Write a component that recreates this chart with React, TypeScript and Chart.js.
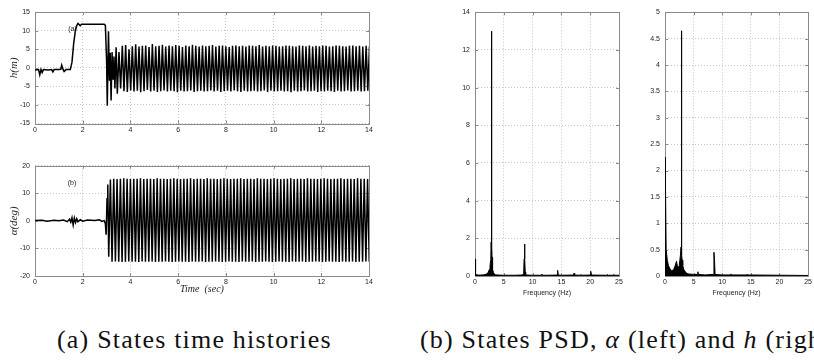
import React, { useEffect, useRef } from 'react';
import { Chart, registerables } from 'chart.js';
Chart.register(...registerables);

// ---------- (a) time history of h ----------
const hTransT = [0, 0.15, 0.2, 0.25, 0.3, 0.35, 0.55, 0.7, 0.75, 0.8, 1.0, 1.08, 1.12, 1.18, 1.22, 1.3, 1.48, 1.55, 1.62, 1.7, 1.76, 1.8, 1.85, 1.9, 1.95, 2.0, 2.5, 2.9, 2.95, 3.0, 3.03, 3.08, 3.12, 3.15, 3.19, 3.23, 3.27, 3.31, 3.35, 3.4];
const hTransV = [-0.6, -0.5, -1.9, -0.5, -1.3, -0.5, -0.6, -0.5, -1.1, -0.5, -0.5, -0.4, 0.7, -0.5, -1.0, -0.5, -0.5, 1.5, 6.5, 10.3, 11.5, 11.9, 11.6, 11.3, 11.7, 11.7, 11.7, 11.7, 11.4, 2, -10.2, 9.8, -3.5, 4, -8.8, 4.2, -3, 3, -5.6, 5.5];
const hOscStart = 3.45;
const hOscStep = 0.07;
const hLow = [-7.0, -5.6, -6.3, -6.5, -6.1, -6.4, -6.2, -6.6, -6.3, -6.0, -6.4, -6.2, -6.5, -6.3, -6.1, -6.4, -6.2, -6.3, -6.6, -6.2, -6.4, -6.3, -6.1, -6.5, -6.3, -6.2, -6.4, -6.3, -6.1, -6.4, -6.2, -6.5, -6.3, -6.2, -6.4, -6.1, -6.3, -6.5, -6.2, -6.4, -6.3, -6.2, -6.4, -6.3, -6.1, -6.5, -6.2, -6.4, -6.3, -6.2, -6.4, -6.3, -6.6, -6.2, -6.4, -6.3, -6.1, -6.4, -6.3, -6.2, -6.5, -6.3, -6.4, -6.2, -6.3, -6.5, -6.2, -6.4, -6.3, -6.1, -6.4, -6.3, -6.2, -6.4, -6.3, -6.2, -6.4];
const hHigh = [4.2, 5.9, 6.1, 5.0, 5.8, 6.3, 5.7, 5.9, 6.0, 5.6, 6.4, 5.8, 5.9, 6.2, 5.7, 6.0, 5.8, 6.1, 5.9, 5.6, 6.0, 5.8, 6.2, 5.9, 5.7, 6.0, 5.8, 5.9, 6.1, 5.7, 5.9, 6.0, 5.8, 5.6, 5.9, 6.0, 5.8, 5.9, 5.7, 6.0, 5.9, 5.8, 6.1, 5.7, 5.9, 5.8, 6.0, 5.9, 5.7, 5.8, 6.0, 5.9, 5.8, 5.7, 6.0, 5.9, 5.8, 6.0, 5.7, 5.9, 5.8, 6.0, 5.9, 5.7, 5.8, 6.0, 5.9, 5.8, 5.7, 5.9, 6.0, 5.8, 5.9, 5.7, 5.9, 5.8, 6.0];

// ---------- (a) time history of alpha ----------
const aTransT = [0, 0.3, 0.5, 0.8, 1.0, 1.2, 1.35, 1.45, 1.5, 1.55, 1.6, 1.65, 1.7, 1.75, 1.8, 1.9, 2.0, 2.2, 2.5, 2.7, 2.8, 2.9, 2.95, 2.98, 3.02, 3.05];
const aTransV = [0.1, 0.2, -0.1, 0.2, 0, 0.3, -0.3, 0.6, -0.5, 1.1, -1.5, 1.0, -0.6, 0.8, -0.3, 0.4, -0.1, 0.3, 0.1, 0.4, -0.2, 0.1, -1.0, -5.0, 8.0, 13.2];
const aOscStart = 3.09;
const aOscStep = 0.07;
const aLow = [-13.0, -14.8, -14.7, -14.8, -14.9, -14.8, -14.7, -14.8, -14.8, -14.9, -14.7, -14.8, -14.8, -14.7, -14.9, -14.8, -14.8, -14.7, -14.8, -14.9, -14.8, -14.7, -14.8, -14.8, -14.9, -14.7, -14.8, -14.8, -14.7, -14.9, -14.8, -14.8, -14.7, -14.8, -14.9, -14.8, -14.7, -14.8, -14.8, -14.9, -14.7, -14.8, -14.8, -14.7, -14.9, -14.8, -14.8, -14.7, -14.8, -14.9, -14.8, -14.7, -14.8, -14.8, -14.9, -14.7, -14.8, -14.8, -14.7, -14.9, -14.8, -14.8, -14.7, -14.8, -14.9, -14.8, -14.7, -14.8, -14.8, -14.9, -14.7, -14.8, -14.8, -14.7, -14.9, -14.8, -14.8, -14.7, -14.8, -14.9];
const aHigh = [15.0, 15.3, 15.2, 15.3, 15.4, 15.3, 15.2, 15.3, 15.3, 15.4, 15.2, 15.3, 15.3, 15.2, 15.4, 15.3, 15.3, 15.2, 15.3, 15.4, 15.3, 15.2, 15.3, 15.3, 15.4, 15.2, 15.3, 15.3, 15.2, 15.4, 15.3, 15.3, 15.2, 15.3, 15.4, 15.3, 15.2, 15.3, 15.3, 15.4, 15.2, 15.3, 15.3, 15.2, 15.4, 15.3, 15.3, 15.2, 15.3, 15.4, 15.3, 15.2, 15.3, 15.3, 15.4, 15.2, 15.3, 15.3, 15.2, 15.4, 15.3, 15.3, 15.2, 15.3, 15.4, 15.3, 15.2, 15.3, 15.3, 15.4, 15.2, 15.3, 15.3, 15.2, 15.4, 15.3, 15.3, 15.2, 15.3, 15.4];

// ---------- (b) PSD of alpha ----------
const psdAF = [0, 0.05, 0.15, 0.3, 0.6, 1.0, 1.5, 2.0, 2.3, 2.5, 2.6, 2.7, 2.75, 2.8, 2.84, 2.88, 2.9, 2.93, 2.96, 3.0, 3.05, 3.1, 3.2, 3.35, 3.6, 4.0, 5, 6, 7, 8, 8.45, 8.52, 8.6, 8.66, 8.72, 8.8, 9.0, 10, 11.5, 11.6, 11.7, 12.5, 14.25, 14.35, 14.45, 15, 17.1, 17.2, 17.3, 18.3, 18.4, 18.5, 20.0, 20.1, 20.2, 22.9, 23.0, 23.1, 24.0, 24.1, 24.2, 25];
const psdAV = [0.9, 0.3, 0.1, 0.06, 0.05, 0.05, 0.06, 0.1, 0.2, 0.35, 0.5, 0.8, 1.0, 1.8, 1.2, 13.0, 6.5, 1.5, 1.0, 0.7, 0.5, 0.35, 0.2, 0.1, 0.06, 0.05, 0.04, 0.04, 0.04, 0.05, 0.08, 0.9, 1.7, 0.9, 0.2, 0.08, 0.05, 0.04, 0.04, 0.1, 0.04, 0.04, 0.05, 0.3, 0.05, 0.04, 0.05, 0.15, 0.05, 0.04, 0.08, 0.04, 0.05, 0.25, 0.05, 0.04, 0.08, 0.04, 0.04, 0.08, 0.04, 0.04];

// ---------- (b) PSD of h ----------
const psdHF = [0, 0.05, 0.1, 0.2, 0.3, 0.4, 0.6, 0.9, 1.2, 1.5, 1.8, 2.0, 2.15, 2.3, 2.5, 2.7, 2.8, 2.85, 2.9, 2.95, 3.0, 3.1, 3.3, 3.6, 4, 5, 5.7, 5.75, 5.8, 7, 8.45, 8.55, 8.65, 8.75, 10, 11.45, 11.5, 11.55, 14.3, 14.35, 14.4, 25];
const psdHV = [2.25, 2.2, 1.8, 0.5, 0.5, 0.3, 0.2, 0.13, 0.1, 0.12, 0.2, 0.28, 0.2, 0.15, 0.2, 0.4, 0.55, 4.65, 2.35, 0.4, 0.3, 0.2, 0.12, 0.07, 0.04, 0.03, 0.03, 0.08, 0.03, 0.02, 0.03, 0.45, 0.3, 0.03, 0.02, 0.02, 0.04, 0.02, 0.02, 0.03, 0.02, 0.01];

const hTicksY = { min: -15, max: 15, step: 5 };
const aTicksY = { min: -20, max: 20, step: 10 };
const timeTicks = { min: 0, max: 14, step: 2 };
const freqTicks = { min: 0, max: 25, step: 5 };
const psdATicks = { min: 0, max: 14, step: 2 };
const psdHTicks = { min: 0, max: 5, step: 0.5 };

function pairs(t: number[], v: number[]) {
  return t.map((x, i) => ({ x, y: v[i] }));
}
function oscPoints(start: number, step: number, lows: number[], highs: number[]) {
  const pts: { x: number; y: number }[] = [];
  const n = Math.min(lows.length, highs.length);
  for (let i = 0; i < n; i++) {
    pts.push({ x: start + 2 * i * step, y: lows[i] });
    pts.push({ x: start + (2 * i + 1) * step, y: highs[i] });
  }
  return pts;
}

const boxPlugin = {
  id: 'box',
  beforeDatasetsDraw(chart: any, _args: any, opts: any) {
    const { ctx, chartArea: a } = chart;
    ctx.save();
    ctx.strokeStyle = '#8a8a8a';
    ctx.lineWidth = 1;
    const xs = chart.scales.x, ys = chart.scales.y;
    ctx.beginPath();
    xs.ticks.forEach((t: any) => {
      const p = Math.round(xs.getPixelForValue(t.value)) + 0.5;
      ctx.moveTo(p, a.bottom); ctx.lineTo(p, a.bottom - 3);
      ctx.moveTo(p, a.top); ctx.lineTo(p, a.top + 3);
    });
    ys.ticks.forEach((t: any) => {
      const p = Math.round(ys.getPixelForValue(t.value)) + 0.5;
      ctx.moveTo(a.left, p); ctx.lineTo(a.left + 3, p);
      ctx.moveTo(a.right, p); ctx.lineTo(a.right - 3, p);
    });
    ctx.stroke();
    ctx.strokeRect(Math.round(a.left) + 0.5, Math.round(a.top) + 0.5, Math.round(a.right - a.left), Math.round(a.bottom - a.top));
    ctx.restore();
  },
  afterDatasetsDraw(chart: any, _args: any, opts: any) {
    if (!opts || !opts.label) return;
    const { ctx } = chart;
    const xs = chart.scales.x, ys = chart.scales.y;
    ctx.save();
    ctx.fillStyle = '#222';
    ctx.font = '7px "Liberation Sans"';
    ctx.textAlign = 'center';
    ctx.textBaseline = 'middle';
    ctx.fillText(opts.label, xs.getPixelForValue(opts.lx), ys.getPixelForValue(opts.ly));
    ctx.restore();
  },
};

type Cfg = {
  data: { x: number; y: number }[];
  fill: boolean;
  lw: number;
  xt: { min: number; max: number; step: number };
  yt: { min: number; max: number; step: number };
  yWidth: number;
  xHeight: number;
  pad: { top: number; right: number; left: number; bottom: number };
  xTitle?: string;
  xTitleFont?: any;
  xTitlePad?: number;
  yTitle?: string;
  yTitlePad?: number;
  label?: string;
  lx?: number;
  ly?: number;
};

function makeConfig(c: Cfg): any {
  const tickFont = { family: 'Liberation Sans', size: 7 };
  return {
    type: 'line',
    data: {
      datasets: [
        {
          data: c.data,
          borderColor: '#000',
          backgroundColor: '#000',
          borderWidth: c.lw,
          pointRadius: 0,
          tension: 0,
          fill: c.fill ? 'origin' : false,
        },
      ],
    },
    plugins: [boxPlugin],
    options: {
      animation: false,
      responsive: false,
      events: [],
      layout: { padding: c.pad },
      plugins: {
        legend: { display: false },
        tooltip: { enabled: false },
        box: { label: c.label, lx: c.lx, ly: c.ly },
      },
      scales: {
        x: {
          type: 'linear',
          min: c.xt.min,
          max: c.xt.max,
          afterFit: (s: any) => { s.height = c.xHeight; },
          ticks: { stepSize: c.xt.step, font: tickFont, color: '#222', padding: 2, maxRotation: 0, autoSkip: false, callback: (v: any) => String(v) },
          grid: { color: '#c4c4c4', lineWidth: 1, drawTicks: false },
          border: { display: false, dash: [1, 2] },
          title: c.xTitle ? { display: true, text: c.xTitle, font: c.xTitleFont, color: '#222', padding: { top: 0, bottom: c.xTitlePad ?? 3 } } : { display: false },
        },
        y: {
          type: 'linear',
          min: c.yt.min,
          max: c.yt.max,
          afterFit: (s: any) => { s.width = c.yWidth; },
          ticks: { stepSize: c.yt.step, font: tickFont, color: '#222', padding: 5, autoSkip: false, callback: (v: any) => String(v) },
          grid: { color: '#c4c4c4', lineWidth: 1, drawTicks: false },
          border: { display: false, dash: [1, 2] },
          title: c.yTitle ? { display: true, text: c.yTitle, font: { family: 'Liberation Serif', size: 11, style: 'italic' }, color: '#222', padding: { top: c.yTitlePad ?? 8, bottom: 0 } } : { display: false },
        },
      },
    },
  };
}

function ChartBox(props: { left: number; top: number; width: number; height: number; cfg: Cfg }) {
  const ref = useRef<HTMLCanvasElement | null>(null);
  useEffect(() => {
    if (!ref.current) return;
    const ch = new Chart(ref.current, makeConfig(props.cfg));
    return () => ch.destroy();
  }, []);
  return (
    <canvas
      ref={ref}
      width={props.width}
      height={props.height}
      style={{ position: 'absolute', left: props.left, top: props.top, width: props.width, height: props.height }}
    />
  );
}

export default function App() {
  const hData = [...pairs(hTransT, hTransV), ...oscPoints(hOscStart, hOscStep, hLow, hHigh)];
  const aData = [...pairs(aTransT, aTransV), ...oscPoints(aOscStart, aOscStep, aLow, aHigh)];
  const capStyle: React.CSSProperties = {
    position: 'absolute',
    fontFamily: '"Liberation Serif", "Times New Roman", serif',
    fontSize: 26,
    lineHeight: '26px',
    letterSpacing: '1.2px',
    whiteSpace: 'nowrap',
    color: '#111',
  };
  return (
    <div style={{ position: 'absolute', left: 0, top: 0, width: 814, height: 361, overflow: 'hidden', background: '#fff' }}>
      <ChartBox left={0} top={0} width={380} height={150} cfg={{
        data: hData, fill: false, lw: 1.5, xt: timeTicks, yt: hTicksY, yWidth: 35, xHeight: 26.5,
        pad: { top: 12, right: 11, left: 0, bottom: 0 }, yTitle: 'h(m)', label: '(a)', lx: 1.57, ly: 10.5,
      }} />
      <ChartBox left={0} top={150} width={380} height={150} cfg={{
        data: aData, fill: false, lw: 1.5, xt: timeTicks, yt: aTicksY, yWidth: 35, xHeight: 24,
        pad: { top: 15.7, right: 11, left: 0, bottom: 0 }, yTitle: 'α(deg)',
        xTitle: 'Time  (sec)', xTitleFont: { family: 'Liberation Serif', size: 10, style: 'italic' }, xTitlePad: 5,
        label: '(b)', lx: 1.55, ly: 13.7,
      }} />
      <ChartBox left={420} top={0} width={210} height={300} cfg={{
        data: pairs(psdAF, psdAV), fill: true, lw: 1, xt: freqTicks, yt: psdATicks, yWidth: 55, xHeight: 24,
        pad: { top: 12.3, right: 11, left: 0, bottom: 0 },
        xTitle: 'Frequency (Hz)', xTitleFont: { family: 'Liberation Sans', size: 7 }, xTitlePad: 3,
      }} />
      <ChartBox left={630} top={0} width={184} height={300} cfg={{
        data: pairs(psdHF, psdHV), fill: true, lw: 1, xt: freqTicks, yt: psdHTicks, yWidth: 35, xHeight: 24,
        pad: { top: 12.3, right: 4, left: 0, bottom: 0 },
        xTitle: 'Frequency (Hz)', xTitleFont: { family: 'Liberation Sans', size: 7 }, xTitlePad: 3,
      }} />
      <div style={{ ...capStyle, left: 57, top: 327 }}>(a) States time histories</div>
      <div style={{ ...capStyle, left: 420, top: 327 }}>
        (b) States PSD, <i>α</i> (left) and <i>h</i> (right)
      </div>
    </div>
  );
}
